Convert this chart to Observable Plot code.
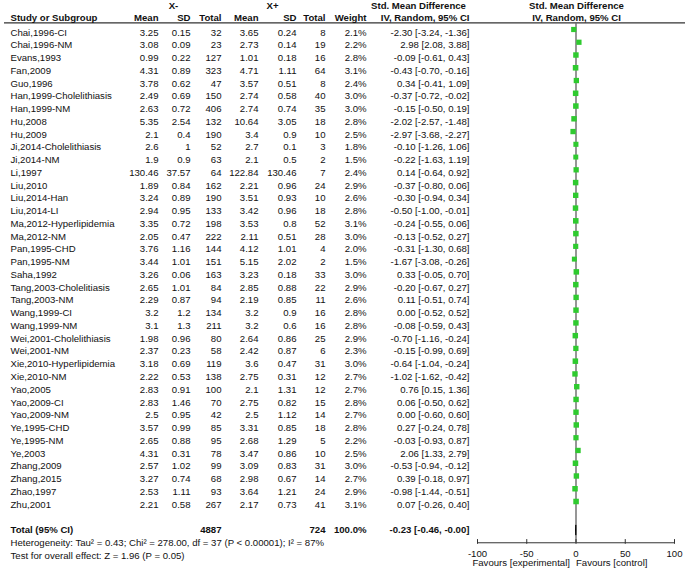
<!DOCTYPE html>
<html><head><meta charset="utf-8">
<script src="https://cdn.jsdelivr.net/npm/d3@7"></script>
<script src="https://cdn.jsdelivr.net/npm/@observablehq/plot@0.6"></script>
<style>body{margin:0;background:#fff}svg{display:block}</style>
</head><body><div id="chart"></div>
<script>
const studies = ["Chai,1996-CI","Chai,1996-NM","Evans,1993","Fan,2009","Guo,1996","Han,1999-Cholelithiasis","Han,1999-NM","Hu,2008","Hu,2009","Ji,2014-Cholelithiasis","Ji,2014-NM","Li,1997","Liu,2010","Liu,2014-Han","Liu,2014-LI","Ma,2012-Hyperlipidemia","Ma,2012-NM","Pan,1995-CHD","Pan,1995-NM","Saha,1992","Tang,2003-Cholelitiasis","Tang,2003-NM","Wang,1999-CI","Wang,1999-NM","Wei,2001-Cholelithiasis","Wei,2001-NM","Xie,2010-Hyperlipidemia","Xie,2010-NM","Yao,2005","Yao,2009-CI","Yao,2009-NM","Ye,1995-CHD","Ye,1995-NM","Ye,2003","Zhang,2009","Zhang,2015","Zhao,1997","Zhu,2001"];
const meanNeg = [3.25,3.08,0.99,4.31,3.78,2.49,2.63,5.35,2.1,2.6,1.9,130.46,1.89,3.24,2.94,3.35,2.05,3.76,3.44,3.26,2.65,2.29,3.2,3.1,1.98,2.37,3.18,2.22,2.83,2.83,2.5,3.57,2.65,4.31,2.57,3.27,2.53,2.21];
const sdNeg = [0.15,0.09,0.22,0.89,0.62,0.69,0.72,2.54,0.4,1,0.9,37.57,0.84,0.89,0.95,0.72,0.47,1.16,1.01,0.06,1.01,0.87,1.2,1.3,0.96,0.23,0.69,0.53,0.91,1.46,0.95,0.99,0.88,0.31,1.02,0.74,1.11,0.58];
const totalNeg = [32,23,127,323,47,150,406,132,190,52,63,64,162,190,133,198,222,144,151,163,84,94,134,211,80,58,119,138,100,70,42,85,95,78,99,68,93,267];
const meanPos = [3.65,2.73,1.01,4.71,3.57,2.74,2.74,10.64,3.4,2.7,2.1,122.84,2.21,3.51,3.42,3.53,2.11,4.12,5.15,3.23,2.85,2.19,3.2,3.2,2.64,2.42,3.6,2.75,2.1,2.75,2.5,3.31,2.68,3.47,3.09,2.98,3.64,2.17];
const sdPos = [0.24,0.14,0.18,1.11,0.51,0.58,0.74,3.05,0.9,0.1,0.5,130.46,0.96,0.93,0.96,0.8,0.51,1.01,2.02,0.18,0.88,0.85,0.9,0.6,0.86,0.87,0.47,0.31,1.31,0.82,1.12,0.85,1.29,0.86,0.83,0.67,1.21,0.73];
const totalPos = [8,19,16,64,8,40,35,18,10,3,2,7,24,10,18,52,28,4,2,33,22,11,16,16,25,6,31,12,12,15,14,18,5,10,31,14,24,41];
const weight = [2.1,2.2,2.8,3.1,2.4,3.0,3.0,2.8,2.5,1.8,1.5,2.4,2.9,2.6,2.8,3.1,3.0,2.0,1.5,3.0,2.9,2.6,2.8,2.8,2.9,2.3,3.0,2.7,2.7,2.8,2.7,2.8,2.2,2.5,3.0,2.7,2.9,3.1];
const smd = [-2.30,2.98,-0.09,-0.43,0.34,-0.37,-0.15,-2.02,-2.97,-0.10,-0.22,0.14,-0.37,-0.30,-0.50,-0.24,-0.13,-0.31,-1.67,0.33,-0.20,0.11,0.00,-0.08,-0.70,-0.15,-0.64,-1.02,0.76,0.06,0.00,0.27,-0.03,2.06,-0.53,0.39,-0.98,0.07];
const ciLow = [-3.24,2.08,-0.61,-0.70,-0.41,-0.72,-0.50,-2.57,-3.68,-1.26,-1.63,-0.64,-0.80,-0.94,-1.00,-0.55,-0.52,-1.30,-3.08,-0.05,-0.67,-0.51,-0.52,-0.59,-1.16,-0.99,-1.04,-1.62,0.15,-0.50,-0.60,-0.24,-0.93,1.33,-0.94,-0.18,-1.44,-0.26];
const ciHigh = [-1.36,3.88,0.43,-0.16,1.09,-0.02,0.19,-1.48,-2.27,1.06,1.19,0.92,0.06,0.34,-0.01,0.06,0.27,0.68,-0.26,0.70,0.27,0.74,0.52,0.43,-0.24,0.69,-0.24,-0.42,1.36,0.62,0.60,0.78,0.87,2.79,-0.12,0.97,-0.51,0.40];
const totalLabel = "Total (95% CI)";
const totalNegN = 4887, totalPosN = 724, totalWeight = 100.0;
const totalSmd = -0.23, totalLow = -0.46, totalHigh = -0.004;
const heterogeneity = "Heterogeneity: Tau² = 0.43; Chi² = 278.00, df = 37 (P < 0.00001); I² = 87%";
const overallTest = "Test for overall effect: Z = 1.96 (P = 0.05)";
const axisTicks = [-100, -50, 0, 50, 100];
const favourLeft = "Favours [experimental]", favourRight = "Favours [control]";

const rows = studies.map((s, i) => ({
  i, study: s, mN: meanNeg[i], sN: sdNeg[i], tN: totalNeg[i], mP: meanPos[i], sP: sdPos[i], tP: totalPos[i],
  w: weight[i], smd: smd[i], lo: ciLow[i], hi: ciHigh[i]
}));
const n = rows.length;
const totalRow = n + 1, hetRow = n + 2, testRow = n + 3;
const fmt2 = v => v.toFixed(2);
const ciText = (m, l, h) => `${fmt2(m)} [${fmt2(l)}, ${fmt2(h)}]`;

// layout (pixel column anchors)
const FONT = "Liberation Sans, Arial, Helvetica, sans-serif";
const FS = 9.6;
const col = {study: 10, mN: 158, sN: 190, tN: 221, mP: 258, sP: 296, tP: 325, w: 366, ci: 469, gN: 173, gP: 272, smdHdr: 418, plotHdr: 576};
const hdr1 = -2.1, hdr2 = -1.15, lineRow = -0.76;

function colText(data, key, text, anchor = "end", extra = {}) {
  return Plot.text(data, {y: "i", text, frameAnchor: "left", dx: col[key], textAnchor: anchor, fontSize: FS, fill: "#111", ...extra});
}
const headerCells = [
  {i: hdr1, key: "gN", t: "X-", a: "middle"},
  {i: hdr1, key: "gP", t: "X+", a: "middle"},
  {i: hdr1, key: "smdHdr", t: "Std. Mean Difference", a: "middle"},
  {i: hdr1, key: "plotHdr", t: "Std. Mean Difference", a: "middle"},
  {i: hdr2, key: "study", t: "Study or Subgroup", a: "start"},
  {i: hdr2, key: "mN", t: "Mean", a: "end"},
  {i: hdr2, key: "sN", t: "SD", a: "end"},
  {i: hdr2, key: "tN", t: "Total", a: "end"},
  {i: hdr2, key: "mP", t: "Mean", a: "end"},
  {i: hdr2, key: "sP", t: "SD", a: "end"},
  {i: hdr2, key: "tP", t: "Total", a: "end"},
  {i: hdr2, key: "w", t: "Weight", a: "end"},
  {i: hdr2, key: "ci", t: "IV, Random, 95% CI", a: "end"},
  {i: hdr2, key: "plotHdr", t: "IV, Random, 95% CI", a: "middle"}
];
const totalCells = [
  {i: totalRow, key: "study", t: totalLabel, a: "start"},
  {i: totalRow, key: "tN", t: String(totalNegN), a: "end"},
  {i: totalRow, key: "tP", t: String(totalPosN), a: "end"},
  {i: totalRow, key: "w", t: totalWeight.toFixed(1) + "%", a: "end"},
  {i: totalRow, key: "ci", t: ciText(totalSmd, totalLow, totalHigh), a: "end"}
];
const footCells = [
  {i: hetRow, key: "study", t: heterogeneity},
  {i: testRow, key: "study", t: overallTest}
];
const cellMarks = (cells, extra) => cells.map(c => Plot.text([c], {y: "i", text: "t", frameAnchor: "left", dx: col[c.key], textAnchor: c.a || "start", fontSize: FS, fill: "#111", ...extra}));

const dTop = 0.4; // diamond half height (rows)
const diamond = [
  {x: totalLow, y: totalRow}, {x: totalSmd, y: totalRow - dTop}, {x: totalHigh, y: totalRow}, {x: totalSmd, y: totalRow + dTop}, {x: totalLow, y: totalRow}
];
const axisRow = hetRow;

const chart = Plot.plot({
  width: 685, height: 571,
  marginLeft: 0, marginRight: 0, marginTop: 0, marginBottom: 29,
  style: {fontFamily: FONT, fontSize: FS + "px", background: "#fff"},
  x: {domain: [-100, 100], range: [477, 674], axis: null},
  y: {domain: [0, n - 1], range: [32, 504], axis: null},
  marks: [
    // header underline
    Plot.ruleY([lineRow], {stroke: "#333", strokeWidth: 1.2, insetLeft: 4}),
    // vertical line of no effect
    Plot.ruleX([0], {y1: lineRow, y2: axisRow, stroke: "#6a6a6a", strokeWidth: 1.4}),
    // axis line and ticks
    Plot.ruleY([axisRow], {x1: axisTicks[0], x2: axisTicks[axisTicks.length - 1], stroke: "#333", strokeWidth: 1}),
    Plot.ruleX(axisTicks, {y1: axisRow - 0.25, y2: axisRow + 0.12, stroke: "#333", strokeWidth: 1}),
    Plot.text(axisTicks, {x: d => d, y: axisRow + 0.85, text: d => String(d), fontSize: FS, fill: "#111"}),
    Plot.text([favourLeft], {x: 0, y: axisRow + 1.6, dx: -6, text: d => d, textAnchor: "end", fontSize: FS, fill: "#111"}),
    Plot.text([favourRight], {x: 0, y: axisRow + 1.6, dx: 0, text: d => d, textAnchor: "start", fontSize: FS, fill: "#111"}),
    // CI whiskers and squares
    Plot.ruleY(rows, {y: "i", x1: "lo", x2: "hi", dy: -3, stroke: "#1a8a1a", strokeWidth: 0.8}),
    Plot.dot(rows, {x: "smd", y: "i", dy: -3, symbol: "square", r: d => 0.75 + d.w * 0.15, fill: "#2fca2f", stroke: "none"}),
    Plot.line(diamond, {x: "x", y: "y", fill: "#000", stroke: "#000", strokeWidth: 0.8}),
    // table columns
    colText(rows, "study", "study", "start"),
    colText(rows, "mN", d => String(d.mN)),
    colText(rows, "sN", d => String(d.sN)),
    colText(rows, "tN", d => String(d.tN)),
    colText(rows, "mP", d => String(d.mP)),
    colText(rows, "sP", d => String(d.sP)),
    colText(rows, "tP", d => String(d.tP)),
    colText(rows, "w", d => d.w.toFixed(1) + "%"),
    colText(rows, "ci", d => ciText(d.smd, d.lo, d.hi)),
    ...cellMarks(headerCells, {fontWeight: "bold"}),
    ...cellMarks(totalCells, {fontWeight: "bold"}),
    ...cellMarks(footCells, {})
  ]
});
document.getElementById("chart").appendChild(chart);
</script>
</body></html>
